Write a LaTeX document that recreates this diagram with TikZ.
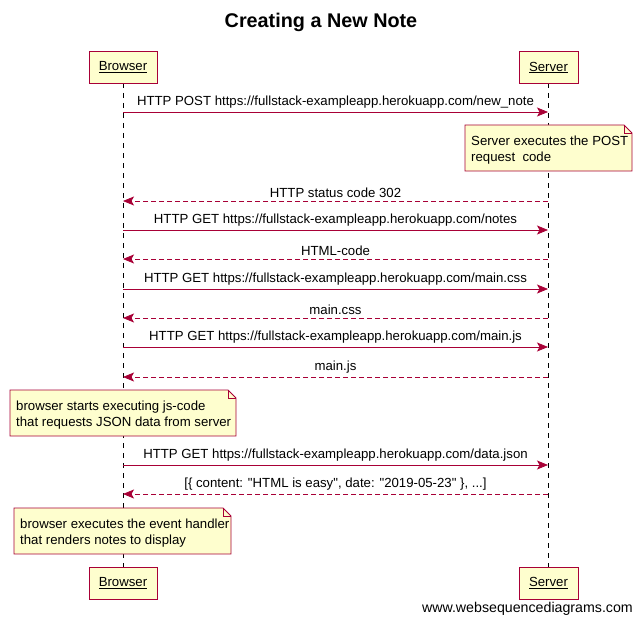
\documentclass[tikz,border=0pt]{standalone}
\usepackage{fontspec}
\setmainfont{Liberation Sans}[Ligatures=TeXOff]
\usetikzlibrary{arrows.meta}
\definecolor{umlred}{HTML}{A80036}
\definecolor{umlfill}{HTML}{FEFECE}
\begin{document}
\begin{tikzpicture}[x=1pt,y=-1pt,
  every node/.style={font=\fontsize{13.2}{16}\selectfont, inner sep=0pt},
  actorbox/.style={draw=umlred, fill=umlfill, line width=1pt, minimum height=32pt, inner xsep=9pt},
  lifeline/.style={black, dashed, dash pattern=on 5pt off 5pt, line width=0.8pt},
  callmsg/.style={umlred, line width=0.8pt, -{Stealth[length=11pt,width=9pt,inset=2.5pt]}},
  replymsg/.style={umlred, line width=0.8pt, dash pattern=on 5pt off 3pt, -{Stealth[length=11pt,width=9pt,inset=2.5pt]}},
  msglabel/.style={above=3pt, black},
  notebody/.style={draw=umlred, fill=umlfill, line width=0.8pt},
  notetext/.style={align=left, anchor=north west}
]
\useasboundingbox (0,0) rectangle (642,623);

% title
\node[font=\bfseries\fontsize{19.8}{24}\selectfont] (title) at (321,22) {Creating a New Note};

% lifelines
\coordinate (btop) at (123,83);
\coordinate (bbot) at (123,567);
\coordinate (stop) at (548,83);
\coordinate (sbot) at (548,567);
\draw[lifeline] (btop) -- (bbot);
\draw[lifeline] (stop) -- (sbot);

% participant heads and feet
\node[actorbox, minimum width=68pt] (browserTop) at (123,67.5) {\underline{Browser}};
\node[actorbox, minimum width=59pt] (serverTop) at (548.5,67.5) {\underline{Server}};
\node[actorbox, minimum width=68pt] (browserBot) at (123,583) {\underline{Browser}};
\node[actorbox, minimum width=59pt] (serverBot) at (548.5,583) {\underline{Server}};

% messages
\foreach \n/\yy in {1/112,2/201,3/230,4/259,5/289,6/318,7/347,8/377,9/465,10/494}{
  \coordinate (b\n) at (123,\yy);
  \coordinate (s\n) at (548,\yy);
}
\draw[callmsg]  (b1) -- node[msglabel] {HTTP POST https://fullstack-exampleapp.herokuapp.com/new\_note} (s1);
\draw[replymsg] (s2) -- node[msglabel] {HTTP status code 302} (b2);
\draw[callmsg]  (b3) -- node[msglabel] {HTTP GET https://fullstack-exampleapp.herokuapp.com/notes} (s3);
\draw[replymsg] (s4) -- node[msglabel] {HTML-code} (b4);
\draw[callmsg]  (b5) -- node[msglabel] {HTTP GET https://fullstack-exampleapp.herokuapp.com/main.css} (s5);
\draw[replymsg] (s6) -- node[msglabel] {main.css} (b6);
\draw[callmsg]  (b7) -- node[msglabel] {HTTP GET https://fullstack-exampleapp.herokuapp.com/main.js} (s7);
\draw[replymsg] (s8) -- node[msglabel] {main.js} (b8);
\draw[callmsg]  (b9) -- node[msglabel] {HTTP GET https://fullstack-exampleapp.herokuapp.com/data.json} (s9);
\draw[replymsg] (s10) -- node[msglabel] {[\{ content: "HTML is easy", date: "2019-05-23" \}, ...]} (b10);

% notes (folded corner)
\newcommand{\umlnote}[4]{%
  \draw[notebody] (#1,#2) -- (#3-8,#2) -- (#3,#2+8) -- (#3,#4) -- (#1,#4) -- cycle;
  \draw[notebody, fill=none] (#3-8,#2) -- (#3-8,#2+8) -- (#3,#2+8);
}
\umlnote{465}{125}{632}{171}
\node[notetext] (note1) at (471,136) {Server executes the POST\\request\ \ code};
\umlnote{10}{390}{236}{436}
\node[notetext] (note2) at (16,401) {browser starts executing js-code\\that requests JSON data from server};
\umlnote{14}{508}{231}{554}
\node[notetext] (note3) at (20,519) {browser executes the event handler\\that renders notes to display};

% footer
\node[anchor=east, font=\fontsize{14.2}{16}\selectfont] (footer) at (633,609) {www.websequencediagrams.com};
\end{tikzpicture}
\end{document}
